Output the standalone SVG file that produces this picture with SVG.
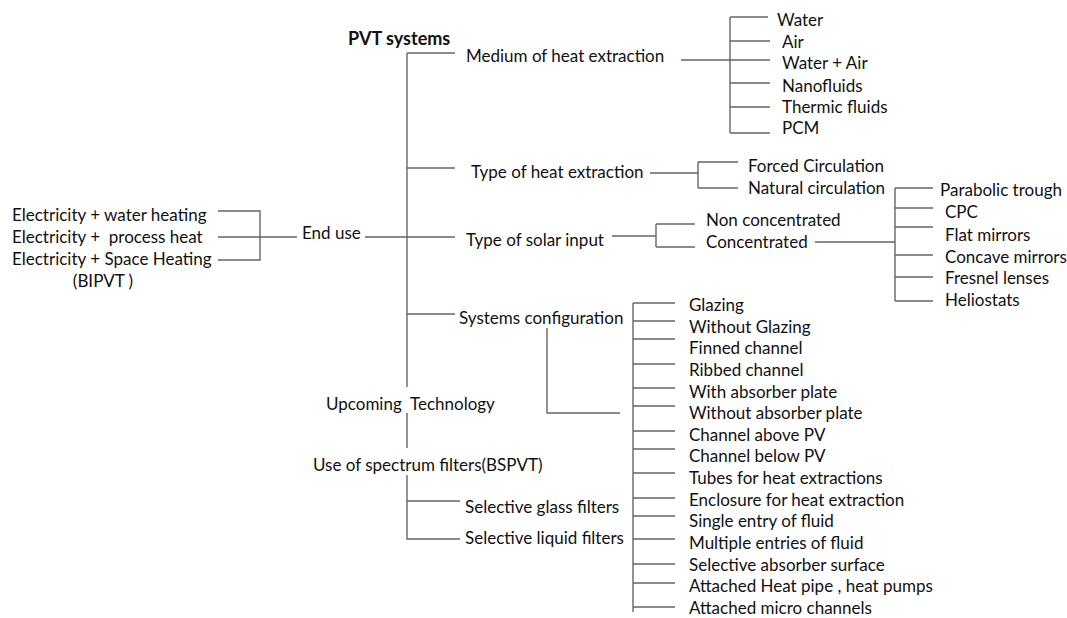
<svg xmlns="http://www.w3.org/2000/svg" width="1067" height="618" viewBox="0 0 1067 618">
<style>
text{font-family:Lato,"Liberation Sans",sans-serif;font-size:17px;fill:#111}
.b{font-weight:bold;font-size:18px}
.p{white-space:pre}
.c{fill:none;stroke:#666;stroke-width:1.4}
</style>
<rect width="1067" height="618" fill="#fff"/>
<g id="connectors" class="c">
<path d="M407 53V387M407 413V448M407 475V539H460M407 501H460"/>
<path d="M407 53H455M407 168H455M365 237H455M407 314H455"/>
<path d="M681 60H770M730 17V133M730 17H768M730 41H770M730 83H770M730 107H770M730 133H770"/>
<path d="M650 173H698M698 162V188M698 162H738M698 188H738"/>
<path d="M612 236H656M656 224V247M656 224H695M656 247H695"/>
<path d="M815 242H895M895 188V301M895 188H933M895 208H933M895 227H933M895 255H933M895 277H933M895 301H933"/>
<path d="M547 328V413H620"/>
<path d="M633 303V612M633 303H675M633 321H675M633 339H675M633 364H675M633 388H675M633 406H675M633 431H675M633 449H675M633 473H675M633 498H675M633 516H675M633 539H675M633 564H675M633 583H675M633 607H675"/>
<path d="M218 211H260V260H218M218 237H297"/>
</g>
<g id="pvt-systems"><text class="b" x="348" y="45">PVT systems</text></g>
<g id="medium"><text x="466" y="62">Medium of heat extraction</text></g>
<g id="medium-items">
<text x="777" y="26">Water</text>
<text x="782" y="48">Air</text>
<text x="782" y="69">Water + Air</text>
<text x="782" y="92">Nanofluids</text>
<text x="782" y="113">Thermic fluids</text>
<text x="782" y="134">PCM</text>
</g>
<g id="type-heat"><text x="471" y="178">Type of heat extraction</text></g>
<g id="circulation">
<text x="748" y="172">Forced Circulation</text>
<text x="748" y="194">Natural circulation</text>
</g>
<g id="end-use-items">
<text x="12" y="221">Electricity + water heating</text>
<text class="p" x="12" y="243">Electricity +  process heat</text>
<text x="12" y="265">Electricity + Space Heating</text>
<text x="103" y="287" text-anchor="middle">(BIPVT )</text>
</g>
<g id="end-use"><text x="302" y="239">End use</text></g>
<g id="solar-input"><text x="466" y="246">Type of solar input</text></g>
<g id="solar-items">
<text x="706" y="226">Non concentrated</text>
<text x="706" y="248">Concentrated</text>
</g>
<g id="concentrators">
<text x="940" y="196">Parabolic trough</text>
<text x="945" y="218">CPC</text>
<text x="945" y="241">Flat mirrors</text>
<text x="945" y="263">Concave mirrors</text>
<text x="945" y="284">Fresnel lenses</text>
<text x="945" y="306">Heliostats</text>
</g>
<g id="systems-config"><text x="459" y="324">Systems configuration</text></g>
<g id="config-items">
<text x="689" y="311">Glazing</text>
<text x="689" y="333">Without Glazing</text>
<text x="689" y="354">Finned channel</text>
<text x="689" y="376">Ribbed channel</text>
<text x="689" y="398">With absorber plate</text>
<text x="689" y="419">Without absorber plate</text>
<text x="689" y="441">Channel above PV</text>
<text x="689" y="462">Channel below PV</text>
<text x="689" y="484">Tubes for heat extractions</text>
<text x="689" y="506">Enclosure for heat extraction</text>
<text x="689" y="527">Single entry of fluid</text>
<text x="689" y="549">Multiple entries of fluid</text>
<text x="689" y="571">Selective absorber surface</text>
<text x="689" y="592">Attached Heat pipe , heat pumps</text>
<text x="689" y="614">Attached micro channels</text>
</g>
<g id="upcoming"><text class="p" x="326" y="410">Upcoming  Technology</text></g>
<g id="spectrum"><text x="313" y="471">Use of spectrum filters(BSPVT)</text></g>
<g id="filters">
<text x="465" y="513">Selective glass filters</text>
<text x="465" y="544">Selective liquid filters</text>
</g>
</svg>
